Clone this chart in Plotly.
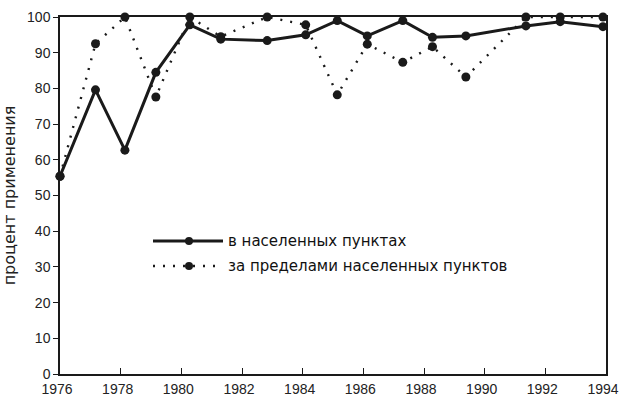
import plotly.graph_objects as go

# Share of use, percent, by survey time
years_in = [1976.0, 1977.17, 1978.14, 1979.16, 1980.28, 1981.3, 1982.83, 1984.1,
            1985.14, 1986.13, 1987.3, 1988.28, 1989.38, 1991.36, 1992.49, 1993.9]
in_towns = [55.4, 79.6, 62.7, 84.5, 97.8, 93.8, 93.4, 95.0,
            99.0, 94.7, 99.0, 94.3, 94.7, 97.5, 98.7, 97.3]

years_out = [1976.0, 1977.17, 1978.14, 1979.16, 1980.28, 1981.3, 1982.83, 1984.1,
             1985.14, 1986.13, 1987.3, 1988.28, 1989.38, 1991.36, 1992.49, 1993.9]
out_towns = [55.4, 92.5, 100.0, 77.6, 100.0, 94.5, 100.0, 97.8,
             78.2, 92.4, 87.3, 91.7, 83.2, 100.0, 100.0, 100.0]

x_ticks = list(range(1976, 1995, 2))
y_ticks = list(range(0, 101, 10))

label_in = "в населенных пунктах"
label_out = "за пределами населенных пунктов"

ink = "#1a1a1a"
tick_font = "Liberation Sans, Arial, sans-serif"
text_font = "DejaVu Sans, Liberation Sans, sans-serif"
dot_dash = "2px,8px"

W, H = 622, 398
M = dict(l=60, r=16, t=17, b=24)
plot_w = W - M["l"] - M["r"]
plot_h = H - M["t"] - M["b"]


def px_x(px):
    return (px - M["l"]) / plot_w


def px_y(py):
    return (H - M["b"] - py) / plot_h


fig = go.Figure()
fig.add_trace(go.Scatter(
    x=years_out, y=out_towns, mode="lines+markers", name=label_out,
    line=dict(color=ink, width=2.4, dash=dot_dash),
    marker=dict(color=ink, size=9),
    cliponaxis=False, showlegend=False,
))
fig.add_trace(go.Scatter(
    x=years_in, y=in_towns, mode="lines+markers", name=label_in,
    line=dict(color=ink, width=3),
    marker=dict(color=ink, size=9),
    cliponaxis=False, showlegend=False,
))

# Hand-drawn key: long line samples with a marker in the middle
key_rows = [(241, dict(color=ink, width=3), label_in),
            (266, dict(color=ink, width=2.4, dash=dot_dash), label_out)]
shapes = []
annotations = []
for row_y, line_style, label in key_rows:
    shapes.append(dict(type="line", xref="paper", yref="paper",
                       x0=px_x(153), x1=px_x(223), y0=px_y(row_y), y1=px_y(row_y),
                       line=line_style))
    shapes.append(dict(type="circle", xref="paper", yref="paper",
                       xsizemode="pixel", ysizemode="pixel",
                       xanchor=px_x(189), yanchor=px_y(row_y),
                       x0=-4, x1=4, y0=-4, y1=4,
                       fillcolor=ink, line=dict(width=0)))
    annotations.append(dict(xref="paper", yref="paper", x=px_x(226), y=px_y(row_y),
                            xanchor="left", yanchor="middle", showarrow=False,
                            text=label, font=dict(family=text_font, size=15, color="#111")))

fig.update_layout(
    width=W, height=H, margin=M,
    paper_bgcolor="white", plot_bgcolor="white",
    font=dict(family=tick_font, size=14, color="#222"),
    shapes=shapes, annotations=annotations,
    xaxis=dict(
        range=[1976, 1994], tickmode="array", tickvals=x_ticks,
        ticks="inside", ticklen=6, tickcolor=ink, tickwidth=1,
        ticklabelstandoff=1, ticklabelshift=-3,
        showline=True, linecolor=ink, linewidth=1.5, mirror=True,
        showgrid=False, zeroline=False, automargin=False,
    ),
    yaxis=dict(
        range=[0, 100], tickmode="array", tickvals=y_ticks,
        ticks="outside", ticklen=5, tickcolor=ink, tickwidth=1,
        showline=True, linecolor=ink, linewidth=1.5, mirror=True,
        showgrid=False, zeroline=False, automargin=False,
        title=dict(text="процент применения", standoff=10,
                   font=dict(family=text_font, size=16, color="#222")),
    ),
)

fig.write_html("out.html")
